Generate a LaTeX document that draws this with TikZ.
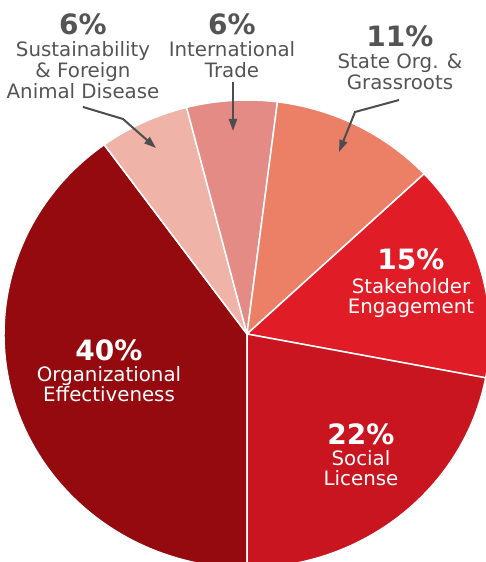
\documentclass[tikz,border=0pt]{standalone}
\usepackage{fontspec}
\setmainfont{DejaVu Sans}
\usetikzlibrary{arrows.meta}
\definecolor{cOrg}{HTML}{940A0E}
\definecolor{cSoc}{HTML}{C91520}
\definecolor{cStk}{HTML}{E01C27}
\definecolor{cSta}{HTML}{EC8067}
\definecolor{cInt}{HTML}{E38B84}
\definecolor{cSus}{HTML}{EFB3A8}
\definecolor{txtgrey}{HTML}{545454}
\definecolor{arrgrey}{HTML}{4D4D4D}
\begin{document}
\begin{tikzpicture}[x=1pt,y=1pt,
  lab/.style={font=\fontsize{19.8}{21}\selectfont, text=txtgrey, anchor=base, inner sep=0pt},
  pct/.style={font=\fontsize{28}{30}\selectfont\bfseries, text=txtgrey, anchor=base, inner sep=0pt},
  inlab/.style={lab, text=white},
  inpct/.style={pct, text=white},
  pointer/.style={draw=arrgrey, line width=2pt, -{Triangle[length=12pt,width=8pt]}},
  slice/.style={draw=white, line width=1.5pt, line join=round}]
\useasboundingbox (0,0) rectangle (486,562);
\begin{scope}
  \clip (0,0) rectangle (486,562);
  \coordinate (C) at (247,228);
  \foreach \a/\b/\c in {126/270/cOrg, 104.4/126/cSus, 82.8/104.4/cInt, 43.2/82.8/cSta, -10.8/43.2/cStk, -90/-10.8/cSoc}
    \filldraw[slice, fill=\c] (C) -- +(\a:243 and 234) arc[start angle=\a, end angle=\b, x radius=243, y radius=234] -- cycle;
\end{scope}

% outside labels
\node[pct] (susP) at (83,527) {6\%};
\node[lab] (sus1) at (83,505.3) {Sustainability};
\node[lab] (sus2) at (83,484.5) {\& Foreign};
\node[lab] (sus3) at (83,463) {Animal Disease};

\node[pct] (intP) at (232,527) {6\%};
\node[lab] (int1) at (232,505.3) {International};
\node[lab] (int2) at (232,484.5) {Trade};

\node[pct] (staP) at (400,515.3) {11\%};
\node[lab] (sta1) at (400,493) {State Org. \&};
\node[lab] (sta2) at (400,472) {Grassroots};

% inside labels
\node[inpct] (orgP) at (109,201) {40\%};
\node[inlab] (org1) at (109,180.3) {Organizational};
\node[inlab] (org2) at (109,160.3) {Effectiveness};

\node[inpct] (stkP) at (411,292) {15\%};
\node[inlab] (stk1) at (411,268.7) {Stakeholder};
\node[inlab] (stk2) at (411,248.7) {Engagement};

\node[inpct] (socP) at (361,117.7) {22\%};
\node[inlab] (soc1) at (361,96.3) {Social};
\node[inlab] (soc2) at (361,76) {License};

% pointers
\coordinate (susA) at (83,455);
\coordinate (susB) at (123,443);
\coordinate (susT) at (156,414);
\coordinate (intA) at (233,480);
\coordinate (intT) at (233,431);
\coordinate (staA) at (399,462);
\coordinate (staB) at (355,450);
\coordinate (staT) at (339,410);
\draw[pointer] (susA) -- (susB) -- (susT);
\draw[pointer] (intA) -- (intT);
\draw[pointer] (staA) -- (staB) -- (staT);
\end{tikzpicture}
\end{document}
